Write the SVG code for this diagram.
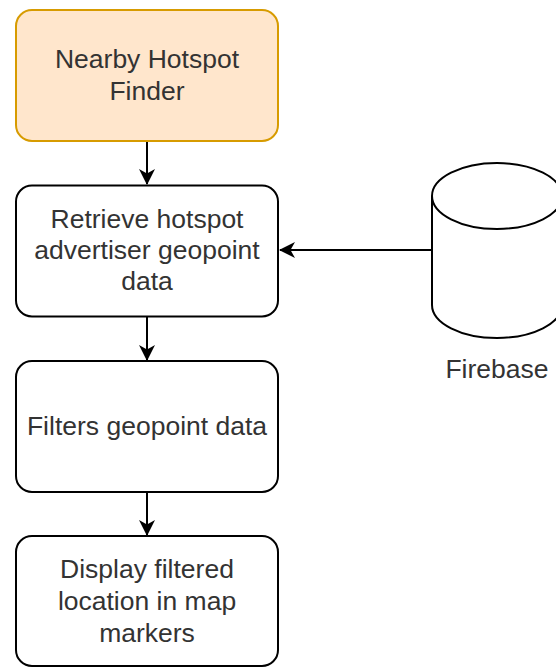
<svg xmlns="http://www.w3.org/2000/svg" width="556" height="668" viewBox="0 0 556 668">
<style>
.box{fill:#ffffff;stroke:#000000;stroke-width:2}
.start{fill:#ffe6cc;stroke:#d79b00;stroke-width:2}
.lbl{font-family:"Liberation Sans",Arial,sans-serif;font-size:26.5px;fill:#333333;text-anchor:middle}
.edge{fill:none;stroke:#000000;stroke-width:2}
</style>
<defs>
<marker id="arr" viewBox="0 0 16 16" refX="15" refY="8" markerWidth="16" markerHeight="16" markerUnits="userSpaceOnUse" orient="auto">
<path d="M0,0 L16,8 L0,16 L4.5,8 Z" fill="#000000"/>
</marker>
</defs>
<rect x="0" y="0" width="556" height="668" fill="#ffffff"/>
<g id="connectors">
<path class="edge" d="M147,142 L147,184" marker-end="url(#arr)"/>
<path class="edge" d="M147,317 L147,360" marker-end="url(#arr)"/>
<path class="edge" d="M147,492 L147,535" marker-end="url(#arr)"/>
<path class="edge" d="M432,250 L280,250" marker-end="url(#arr)"/>
</g>
<g id="finder">
<rect class="start" x="16" y="10" width="262" height="131" rx="16" ry="16"/>
<text class="lbl" x="147" y="68">Nearby Hotspot</text>
<text class="lbl" x="147" y="100">Finder</text>
</g>
<g id="retrieve">
<rect class="box" x="16" y="185.5" width="262" height="131" rx="16" ry="16"/>
<text class="lbl" x="147" y="228">Retrieve hotspot</text>
<text class="lbl" x="147" y="259">advertiser geopoint</text>
<text class="lbl" x="147" y="290">data</text>
</g>
<g id="filter">
<rect class="box" x="16" y="361" width="262" height="131" rx="16" ry="16"/>
<text class="lbl" x="147" y="435">Filters geopoint data</text>
</g>
<g id="display">
<rect class="box" x="16" y="536" width="262" height="130" rx="16" ry="16"/>
<text class="lbl" x="147" y="578">Display filtered</text>
<text class="lbl" x="147" y="610">location in map</text>
<text class="lbl" x="147" y="642">markers</text>
</g>
<g id="firebase">
<path class="box" d="M432,196 A65,33 0 0 1 562,196 L562,305 A65,33 0 0 1 432,305 Z"/>
<path class="edge" d="M432,196 A65,33 0 0 0 562,196"/>
<text class="lbl" x="497" y="378">Firebase</text>
</g>
</svg>
